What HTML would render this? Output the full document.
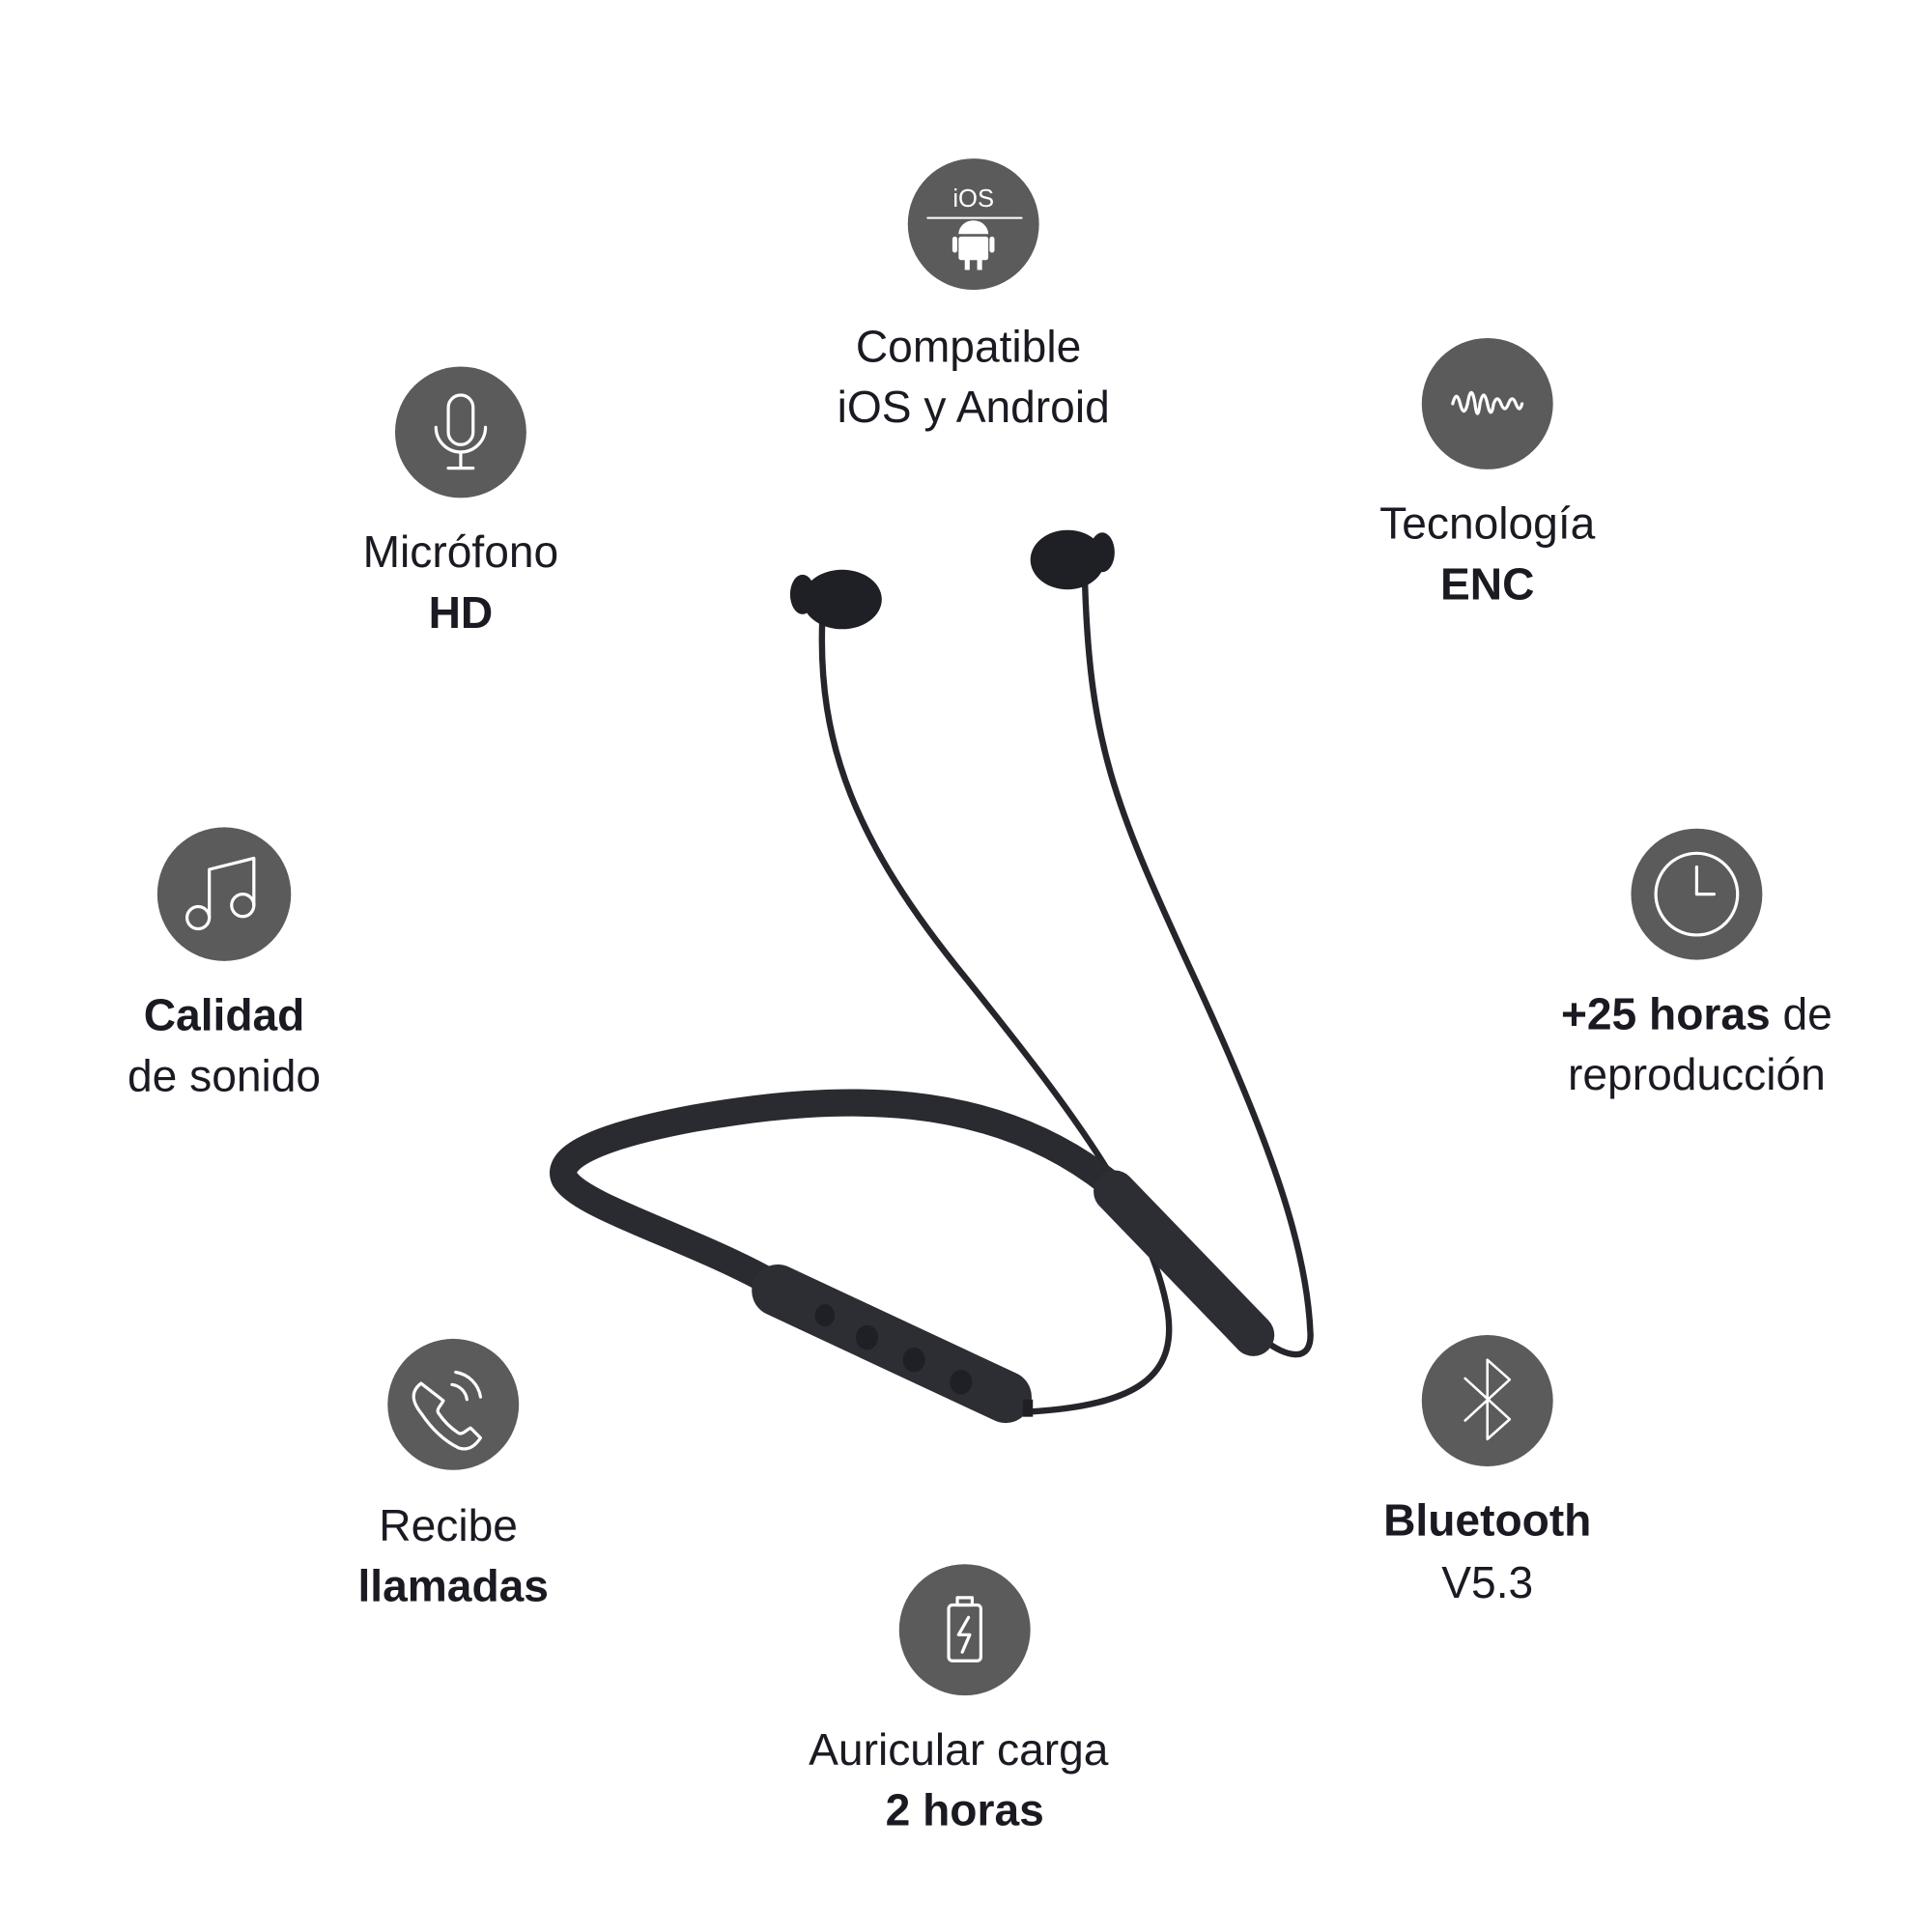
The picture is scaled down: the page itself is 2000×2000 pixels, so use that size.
<!DOCTYPE html>
<html><head><meta charset="utf-8"><style>
html,body{margin:0;padding:0;background:#fff}
svg{display:block}
text{font-family:"Liberation Sans",sans-serif;fill:#1a1a22;font-size:36px;text-anchor:middle}
.b{font-weight:bold}
</style></head><body>
<svg width="2000" height="2000" viewBox="0 0 1560 1560" xmlns="http://www.w3.org/2000/svg">
<g fill="#5b5b5b">
<circle cx="786" cy="181" r="53"/>
<circle cx="372" cy="349" r="53"/>
<circle cx="1201" cy="326" r="53"/>
<circle cx="181" cy="722" r="54"/>
<circle cx="1370" cy="722" r="53"/>
<circle cx="366" cy="1134" r="53"/>
<circle cx="1201" cy="1131" r="53"/>
<circle cx="779" cy="1316" r="53"/>
</g>
<g stroke="#fff" fill="none" stroke-width="2.5" stroke-linecap="round" stroke-linejoin="round">
<line x1="749" y1="176" x2="825" y2="176" stroke-width="1.5"/>
<rect x="362" y="319" width="20" height="40" rx="10"/>
<path d="M352 345 a20 20 0 0 0 40 0"/><line x1="372" y1="365" x2="372" y2="377"/><line x1="362" y1="378" x2="382" y2="378"/>
<path d="M1173 326 q3 -12 6 0 t6 0 q3 -18 6 0 q2 16 4 0 q3 -14 6 0 t5 0 q3 -8 6 0 t6 0 t6 0 t5 0"/>
<circle cx="160" cy="741" r="9"/><circle cx="196" cy="731" r="9"/>
<path d="M169 741 V702 L205 693 V731"/>
<circle cx="1370" cy="722" r="33"/><path d="M1370 700 V722 H1384"/>
<path d="M340 1117 c-8 6 -8 14 0 24 c8 12 18 22 30 28 c8 3 14 -2 18 -8 l-8 -8 c-4 2 -7 6 -10 4 c-6 -4 -12 -10 -16 -16 c-2 -3 2 -6 4 -10 z"/>
<path d="M365 1118 a14 14 0 0 1 12 12 M368 1108 a24 24 0 0 1 20 20"/>
<path d="M1183 1113 L1219 1146 L1201 1162 V1098 L1219 1114 L1183 1147" stroke-width="2"/>
<rect x="766" y="1296" width="26" height="45" rx="3"/><rect x="773" y="1290" width="12" height="6"/>
<path d="M782 1306 l-8 14 h9 l-6 14"/>
</g>
<text x="786" y="167" style="font-size:20px;fill:#fff">iOS</text>
<g fill="#fff"><path d="M774 189 a12 11 0 0 1 24 0 z"/><rect x="774" y="191" width="24" height="19" rx="2"/><rect x="769" y="191" width="4" height="13" rx="2"/><rect x="799" y="191" width="4" height="13" rx="2"/><rect x="779" y="208" width="4" height="10"/><rect x="789" y="208" width="4" height="10"/></g>
<text x="782" y="292">Compatible</text>
<text x="786" y="341">iOS y Android</text>
<text x="372" y="458">Micrófono</text>
<text x="372" y="507" class="b">HD</text>
<text x="1201" y="435">Tecnología</text>
<text x="1201" y="484" class="b">ENC</text>
<text x="181" y="832" class="b">Calidad</text>
<text x="181" y="881">de sonido</text>
<text x="1370" y="831"><tspan style="font-weight:bold">+25 horas</tspan> de</text>
<text x="1370" y="880">reproducción</text>
<text x="362" y="1244">Recibe</text>
<text x="366" y="1293" class="b">llamadas</text>
<text x="1201" y="1240" class="b">Bluetooth</text>
<text x="1201" y="1290">V5.3</text>
<text x="774" y="1425">Auricular carga</text>
<text x="779" y="1474" class="b">2 horas</text>
<g fill="none" stroke="#25262c" stroke-linecap="round">
<path d="M664 500 C660 600,690 680,780 790 C860 890,930 980,943 1060 C950 1110,920 1135,830 1140" stroke-width="5"/>
<path d="M876 470 C880 600,900 650,960 780 C1030 930,1055 1010,1058 1075 C1060 1100,1040 1098,1018 1080" stroke-width="5"/>
<path d="M625 1037 C560 1000,470 975,456 952 C448 935,480 918,560 903 C680 882,800 880,895 955" stroke-width="22" stroke="#2a2b31"/>
<path d="M900 962 L1012 1078" stroke-width="34" stroke="#2d2e34"/>
<path d="M628 1042 L812 1128" stroke-width="42" stroke="#2d2e34"/>
</g>
<g fill="#1f2025">
<ellipse cx="666" cy="1062" rx="8" ry="9"/><ellipse cx="700" cy="1080" rx="9" ry="10"/><ellipse cx="738" cy="1098" rx="9" ry="10"/><ellipse cx="776" cy="1116" rx="9" ry="10"/>
<rect x="826" y="1130" width="8" height="14"/>
<ellipse cx="680" cy="484" rx="32" ry="24"/><ellipse cx="648" cy="480" rx="10" ry="16"/>
<ellipse cx="862" cy="452" rx="30" ry="24"/><ellipse cx="890" cy="446" rx="10" ry="16"/>
</g>
</svg>
</body></html>
